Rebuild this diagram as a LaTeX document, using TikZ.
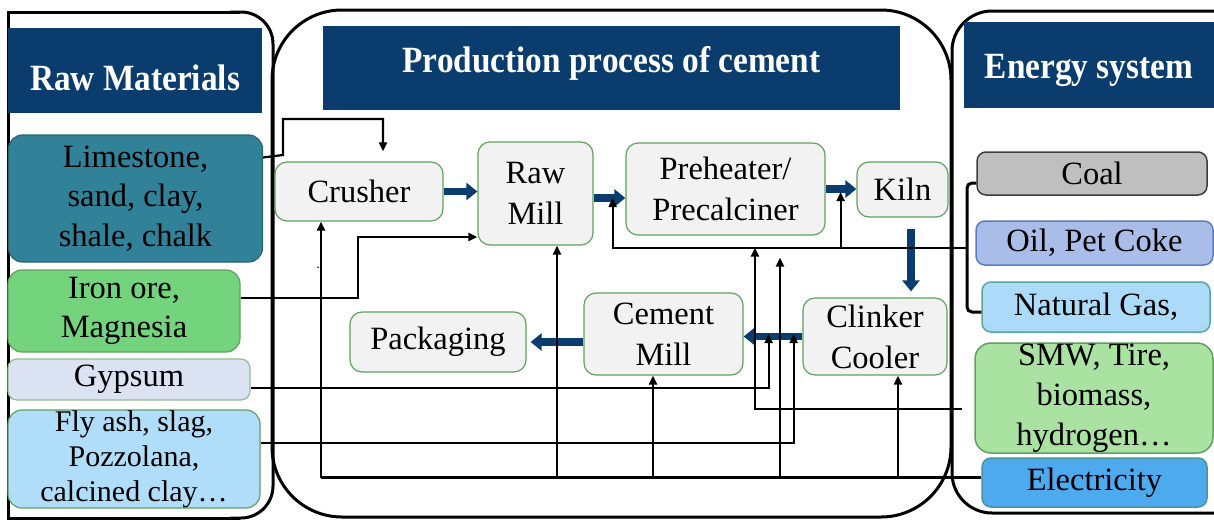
\documentclass[tikz,border=0pt]{standalone}
\usepackage{fontspec}
\setmainfont{Liberation Serif}
\newfontfamily\kopfschrift[FakeStretch=0.9]{Liberation Serif}
\usetikzlibrary{arrows.meta}

\definecolor{kopfblau}{RGB}{10,61,110}
\definecolor{kalk}{RGB}{49,130,152}
\definecolor{eisen}{RGB}{116,212,126}
\definecolor{gips}{RGB}{219,227,243}
\definecolor{asche}{RGB}{176,221,249}
\definecolor{prozessgrau}{RGB}{242,242,242}
\definecolor{prozessrand}{RGB}{96,160,96}
\definecolor{kohle}{RGB}{191,191,191}
\definecolor{oel}{RGB}{170,189,232}
\definecolor{gas}{RGB}{172,219,250}
\definecolor{abfall}{RGB}{170,226,162}
\definecolor{strom}{RGB}{78,170,238}

\tikzset{
	rahmen/.style={line width=3pt},
	kopf/.style={fill=kopfblau,text=white,inner sep=0pt,font=\kopfschrift\fontsize{37}{42}\selectfont\bfseries},
	stoff/.style={rounded corners=14pt,inner sep=0pt,align=center,line width=1.2pt,font=\fontsize{32.5}{39.5}\selectfont},
	prozess/.style={draw=prozessrand,fill=prozessgrau,rounded corners=12pt,inner sep=0pt,align=center,line width=1.2pt,font=\fontsize{32.5}{41}\selectfont},
	energie/.style={rounded corners=9pt,inner sep=0pt,align=center,line width=1.5pt,font=\fontsize{32.5}{40}\selectfont},
	fluss/.style={draw=kopfblau,line width=7.5pt,-{Triangle[length=11pt,width=17pt]}},
	leitung/.style={line width=2.2pt,-{Triangle[length=9pt,width=8pt]}},
	schiene/.style={line width=3pt},
}

\begin{document}
\begin{tikzpicture}[x=1pt,y=-1pt]
	\useasboundingbox (0,0) rectangle (1214,522);
	% Rahmen
	\draw[rahmen] (240,518) -- (8,518) -- (8,12) -- (240,12);
	\draw[rahmen,rounded corners=32] (230,12) -| (273,265) |- (230,518);
	\draw[rahmen,rounded corners=70] (272,10) rectangle (951,517);
	\draw[rahmen,rounded corners=40] (1230,11) -- (952,11) -- (952,513) -- (1230,513);
	% Kopfzeilen
	\node[kopf,minimum width=254,minimum height=85,text height=41pt,text depth=0pt] (rawhd) at (135,70) {Raw Materials};
	\node[kopf,minimum width=577,minimum height=84,text height=25pt,text depth=17pt] (prodhd) at (611.5,68) {Production process of cement};
	\node[kopf,minimum width=250,minimum height=86,text height=27pt,text depth=0pt] (enhd) at (1089,65) {Energy system};
	% Rohstoffe
	\node[stoff,draw={rgb,255:red,40;green,100;blue,110},fill=kalk,minimum width=254,minimum height=127] (lime) at (135.5,198.5) {Limestone,\\sand, clay,\\shale, chalk};
	\node[stoff,draw=prozessrand,fill=eisen,minimum width=232,minimum height=82] (iron) at (124,311) {Iron ore,\\Magnesia};
	\node[stoff,draw=prozessrand!70,fill=gips,rounded corners=9pt,minimum width=242,minimum height=41] (gypsum) at (129,379.5) {Gypsum};
	\node[stoff,draw=prozessrand,fill=asche,minimum width=252,minimum height=98,font=\fontsize{30}{35}\selectfont] (flyash) at (134,459) {Fly ash, slag,\\Pozzolana,\\calcined clay…};
	% Prozess
	\node[prozess,minimum width=168,minimum height=59] (crusher) at (359,191.5) {Crusher};
	\node[prozess,minimum width=115,minimum height=103] (rawmill) at (535.5,193.5) {Raw\\Mill};
	\node[prozess,minimum width=199,minimum height=92] (preheat) at (725.5,189) {Preheater/\\Precalciner};
	\node[prozess,minimum width=91,minimum height=55] (kiln) at (902.5,189.5) {Kiln};
	\node[prozess,minimum width=144,minimum height=77] (cooler) at (875,336.5) {Clinker\\Cooler};
	\node[prozess,minimum width=159,minimum height=82] (cemmill) at (663.5,334) {Cement\\Mill};
	\node[prozess,minimum width=176,minimum height=60] (packaging) at (438,342) {Packaging};
	\node[font=\fontsize{14}{14}\selectfont,inner sep=0pt] (punkt) at (318,268) {.};
	% Energie
	\node[energie,draw={rgb,255:red,60;green,60;blue,60},fill=kohle,minimum width=230,minimum height=43] (coal) at (1092,173.5) {Coal};
	\node[energie,draw={rgb,255:red,90;green,125;blue,190},fill=oel,minimum width=237,minimum height=44] (oil) at (1094.5,243) {Oil, Pet Coke};
	\node[energie,draw={rgb,255:red,90;green,165;blue,150},fill=gas,minimum width=228,minimum height=50] (gas) at (1096,307) {Natural Gas,};
	\node[energie,draw=prozessrand,fill=abfall,rounded corners=16pt,minimum width=238,minimum height=110] (smw) at (1094,398) {SMW, Tire,\\biomass,\\hydrogen…};
	\node[energie,draw={rgb,255:red,70;green,150;blue,150},fill=strom,minimum width=225,minimum height=49] (elec) at (1094.5,482.5) {Electricity};
	% Stofffluss
	\coordinate (rz) at ([yshift=-4.5pt]rawmill.east);
	\coordinate (kz) at ([xshift=8.5pt]kiln.south);
	\draw[fluss] (crusher.east) -- (crusher.east -| rawmill.west);
	\draw[fluss] (rz) -- (rz -| preheat.west);
	\draw[fluss] (preheat.east) -- (preheat.east -| kiln.west);
	\draw[fluss,shorten <=11pt,shorten >=6pt] (kz) -- (kz |- cooler.north);
	\draw[fluss] (cooler.west) -- (cooler.west -| cemmill.east);
	\draw[fluss,shorten >=4pt] (cemmill.west |- packaging.east) -- (packaging.east);
	% Rohstoffleitungen
	\draw[leitung,shorten >=10pt] ([yshift=41pt]lime.east) -- (283,155) |- (383,119) -- (crusher.north -| 383,0);
	\draw[leitung] ([yshift=13pt]iron.east) -- (358,298) |- (rawmill.west |- 0,237);
	\draw[leitung] ([yshift=-8.5pt]gypsum.east) -| ([xshift=25pt]cemmill.east);
	\draw[leitung] ([yshift=16pt]flyash.east) -| ([xshift=50pt]cemmill.east);
	% Strom
	\coordinate (schiene) at (321,477.5);
	\draw[schiene] ([yshift=5pt]elec.west) -- (schiene);
	\draw[leitung] (schiene) -- (crusher.south -| schiene);
	\draw[leitung] ([yshift=5pt]elec.west) -| ([xshift=21.5pt]rawmill.south);
	\draw[leitung] ([yshift=5pt]elec.west) -| ([xshift=-10.5pt]cemmill.south);
	\draw[leitung] ([yshift=5pt]elec.west) -| ([xshift=54.5pt,yshift=-22pt]preheat.south);
	\draw[leitung] ([yshift=5pt]elec.west) -| ([xshift=23pt]cooler.south);
	% Brennstoffe
	\coordinate (fuel) at (967,248);
	\draw[schiene,rounded corners=5pt] ([yshift=-9.5pt]coal.west) -| (fuel) |- ([yshift=-5pt]gas.west);
	\draw[leitung] (fuel) -| ([xshift=19pt,yshift=-4.5pt]rawmill.east);
	\draw[leitung] (fuel) -| ([xshift=15pt,yshift=-3pt]preheat.east);
	\draw[leitung,shorten <=12pt] ([yshift=-11pt]smw.west) -| ([xshift=29.5pt,yshift=-12pt]preheat.south);
\end{tikzpicture}
\end{document}
